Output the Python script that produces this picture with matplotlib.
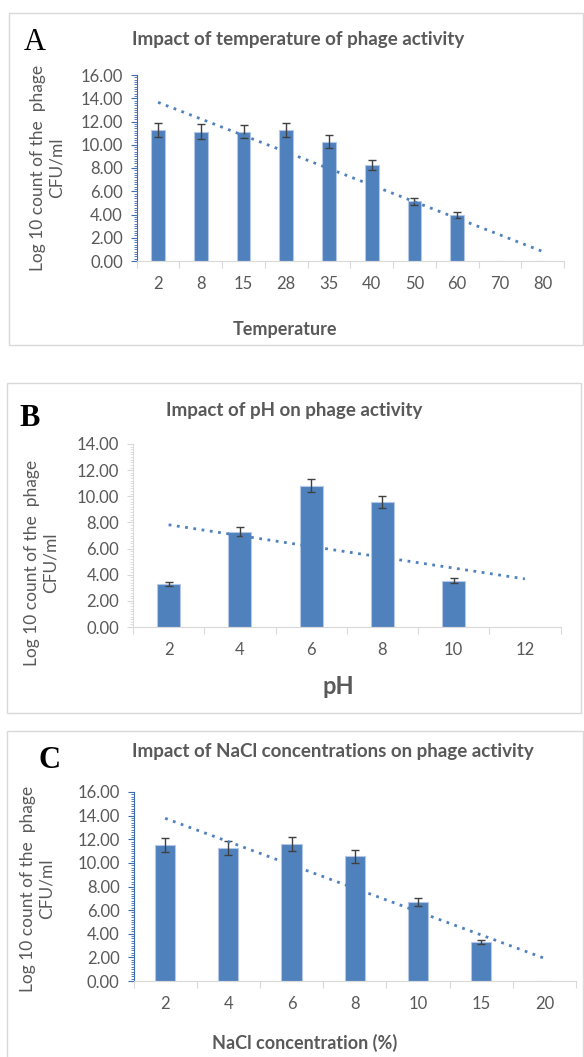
import numpy as np
import matplotlib
matplotlib.use("Agg")
from matplotlib import pyplot as plt
from matplotlib.patches import Rectangle
from matplotlib.ticker import MultipleLocator

# panel A - temperature
temp_labels = ["2", "8", "15", "28", "35", "40", "50", "60", "70", "80"]
temp_vals = [11.24, 11.13, 11.13, 11.24, 10.27, 8.23, 5.16, 3.96, 0, 0]
temp_err = [0.6, 0.65, 0.55, 0.6, 0.55, 0.43, 0.3, 0.25, 0, 0]

# panel B - pH
ph_labels = ["2", "4", "6", "8", "10", "12"]
ph_vals = [3.29, 7.30, 10.82, 9.54, 3.55, 0]
ph_err = [0.18, 0.36, 0.52, 0.46, 0.18, 0]

# panel C - NaCl
nacl_labels = ["2", "4", "6", "8", "10", "15", "20"]
nacl_vals = [11.51, 11.23, 11.63, 10.55, 6.72, 3.30, 0]
nacl_err = [0.56, 0.59, 0.59, 0.58, 0.34, 0.14, 0]

W, H = 584, 1057
BLUE = "#4F81BD"
GRAY_TXT = "#595959"
LIGHT = "#D9D9D9"
FONT = "Lato"

fig = plt.figure(figsize=(W / 100, H / 100), dpi=100)


def px_axes(x0, y0, x1, y1):
    return fig.add_axes([x0 / W, 1 - y1 / H, (x1 - x0) / W, (y1 - y0) / H])


def ftext(x, y, s, **kw):
    fig.text(x / W, 1 - y / H, s, **kw)


def box(x0, y0, x1, y1):
    fig.patches.append(Rectangle((x0 / W, 1 - y1 / H), (x1 - x0) / W, (y1 - y0) / H,
                                 transform=fig.transFigure, fill=False,
                                 edgecolor=LIGHT, lw=1))


def draw_panel(ax, labels, vals, err, ymax, spine_col):
    n = len(labels)
    x = np.arange(n)
    ax.bar(x, vals, width=0.32, color=BLUE, edgecolor="#B4C7E7", lw=0.8, zorder=2)
    has = np.array(err) > 0
    ax.errorbar(x[has], np.array(vals)[has], yerr=np.array(err)[has], fmt="none",
                ecolor="#404040", elinewidth=1, capsize=3, capthick=1, zorder=3)
    # linear trendline over the category index
    k, b = np.polyfit(x + 1, vals, 1)
    ax.plot(x, k * (x + 1) + b, ls=(0, (1, 2)), color=BLUE, lw=2, zorder=4)

    ax.set_xlim(-0.5, n - 0.5)
    ax.set_ylim(0, ymax)
    for s in ["top", "right"]:
        ax.spines[s].set_visible(False)
    ax.spines["bottom"].set_color(LIGHT)
    ax.spines["left"].set_color(spine_col)

    ax.set_xticks(np.arange(n + 1) - 0.5)
    ax.set_xticklabels([])
    ax.set_xticks(x, minor=True)
    ax.set_xticklabels(labels, minor=True)
    ax.tick_params(axis="x", which="major", length=5, color=LIGHT)
    ax.tick_params(axis="x", which="minor", length=0, pad=11,
                   labelsize=12, labelcolor=GRAY_TXT)

    ax.yaxis.set_minor_locator(MultipleLocator(0.2))
    ticks = np.arange(0, ymax + 0.1, 2)
    ax.set_yticks(ticks)
    ax.set_yticklabels([f"{v:.2f}" for v in ticks])
    ax.tick_params(axis="y", which="major", length=4, color=spine_col, pad=6,
                   labelsize=12, labelcolor=GRAY_TXT)
    ax.tick_params(axis="y", which="minor", length=2.5, color=spine_col)
    for t in ax.get_xticklabels(minor=True) + ax.get_yticklabels():
        t.set_family(FONT)


ylab = "Log 10 count of the  phage\nCFU/ml"
lab_kw = dict(family=FONT, color=GRAY_TXT, ha="center", va="center")

# ---- A ----
box(9, 13, 583, 345)
axA = px_axes(136.7, 75, 564, 261)
draw_panel(axA, temp_labels, temp_vals, temp_err, 16, "#3C6DB0")
ftext(35, 43, "A", family="Liberation Serif", fontsize=22, ha="center", va="center")
ftext(298, 40, "Impact of temperature of phage activity", fontsize=13.5,
      weight="bold", **lab_kw)
ftext(47, 168, ylab, fontsize=12.5, rotation=90, multialignment="center", **lab_kw)
ftext(285, 329, "Temperature", fontsize=13, weight="bold", **lab_kw)

# ---- B ----
box(7, 383, 581, 713)
axB = px_axes(133, 444, 560.5, 627)
draw_panel(axB, ph_labels, ph_vals, ph_err, 14, LIGHT)
ftext(30, 418, "B", family="Liberation Serif", fontsize=22, weight="bold",
      ha="center", va="center")
ftext(294, 410, "Impact of pH on phage activity", fontsize=13.5,
      weight="bold", **lab_kw)
ftext(41, 563, ylab, fontsize=12.5, rotation=90, multialignment="center", **lab_kw)
ftext(338, 687, "pH", fontsize=17, weight="bold", **lab_kw)

# ---- C ----
box(7, 731, 583, 1070)
axC = px_axes(133.5, 792, 576, 981)
draw_panel(axC, nacl_labels, nacl_vals, nacl_err, 16, "#3C6DB0")
ftext(49, 760, "C", family="Liberation Serif", fontsize=22, weight="bold",
      ha="center", va="center")
ftext(333, 752, "Impact of NaCl concentrations on phage activity", fontsize=13.5,
      weight="bold", **lab_kw)
ftext(37, 889, ylab, fontsize=12.5, rotation=90, multialignment="center", **lab_kw)
ftext(305, 1043, "NaCl concentration (%)", fontsize=13, weight="bold", **lab_kw)

fig.savefig("out.png", dpi=100, facecolor="white")
